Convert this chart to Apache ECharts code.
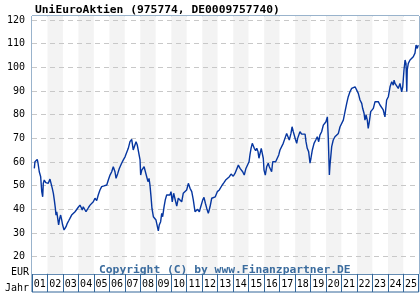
<!DOCTYPE html>
<html>
<head>
<meta charset="utf-8">
<script src="https://cdn.jsdelivr.net/npm/echarts@6/dist/echarts.min.js"></script>
<style>
  html, body { margin: 0; padding: 0; background: #fff; }
  #chart { width: 420px; height: 300px; }
</style>
</head>
<body>
<div id="chart"></div>
<script>
// Kurs in EUR, Zeitpunkt als Dezimaljahr
const years = [
  2001.15, 2001.19, 2001.34, 2001.39, 2001.47, 2001.56, 2001.63, 2001.69, 2001.73, 2001.79,
  2001.89, 2001.95, 2002.05, 2002.16, 2002.23, 2002.31, 2002.38, 2002.44, 2002.51, 2002.55,
  2002.60, 2002.66, 2002.72, 2002.79, 2002.85, 2002.92, 2002.98, 2003.07, 2003.13, 2003.20,
  2003.28, 2003.37, 2003.45, 2003.56, 2003.67, 2003.78, 2003.89, 2003.99, 2004.10, 2004.17,
  2004.25, 2004.31, 2004.42, 2004.49, 2004.57, 2004.66, 2004.75, 2004.86, 2004.96, 2005.07,
  2005.18, 2005.28, 2005.39, 2005.50, 2005.65, 2005.83, 2005.93, 2006.04, 2006.15, 2006.25,
  2006.36, 2006.43, 2006.54, 2006.64, 2006.79, 2006.90, 2007.01, 2007.12, 2007.22, 2007.33,
  2007.44, 2007.54, 2007.61, 2007.72, 2007.80, 2007.91, 2007.98, 2008.02, 2008.09, 2008.15,
  2008.24, 2008.32, 2008.41, 2008.49, 2008.56, 2008.62, 2008.69, 2008.75, 2008.84, 2008.93,
  2009.01, 2009.16, 2009.22, 2009.31, 2009.38, 2009.44, 2009.53, 2009.61, 2009.70, 2009.80,
  2009.91, 2009.98, 2010.06, 2010.15, 2010.26, 2010.35, 2010.45, 2010.56, 2010.67, 2010.77,
  2010.88, 2010.99, 2011.10, 2011.21, 2011.32, 2011.42, 2011.53, 2011.59, 2011.70, 2011.81,
  2011.90, 2012.03, 2012.11, 2012.20, 2012.29, 2012.39, 2012.50, 2012.61, 2012.71, 2012.84,
  2012.97, 2013.10, 2013.19, 2013.29, 2013.40, 2013.51, 2013.62, 2013.75, 2013.86, 2014.00,
  2014.11, 2014.18, 2014.33, 2014.44, 2014.61, 2014.71, 2014.82, 2014.93, 2015.02, 2015.08,
  2015.15, 2015.23, 2015.30, 2015.36, 2015.45, 2015.52, 2015.60, 2015.66, 2015.73, 2015.81,
  2015.88, 2015.94, 2015.99, 2016.07, 2016.16, 2016.26, 2016.33, 2016.42, 2016.48, 2016.55,
  2016.63, 2016.74, 2016.85, 2016.94, 2017.02, 2017.13, 2017.23, 2017.34, 2017.45, 2017.56,
  2017.62, 2017.73, 2017.80, 2017.88, 2017.94, 2018.03, 2018.10, 2018.16, 2018.23, 2018.31,
  2018.42, 2018.53, 2018.64, 2018.70, 2018.78, 2018.87, 2018.96, 2019.02, 2019.11, 2019.22,
  2019.33, 2019.43, 2019.52, 2019.60, 2019.71, 2019.82, 2019.93, 2019.99, 2020.08, 2020.14,
  2020.21, 2020.25, 2020.36, 2020.46, 2020.57, 2020.68, 2020.79, 2020.90, 2021.01, 2021.11,
  2021.22, 2021.33, 2021.43, 2021.54, 2021.65, 2021.76, 2021.87, 2021.98, 2022.08, 2022.19,
  2022.30, 2022.36, 2022.45, 2022.51, 2022.58, 2022.66, 2022.72, 2022.79, 2022.88, 2022.94,
  2023.05, 2023.16, 2023.27, 2023.37, 2023.48, 2023.59, 2023.69, 2023.80, 2023.91, 2024.02,
  2024.13, 2024.24, 2024.34, 2024.39, 2024.45, 2024.56, 2024.66, 2024.77, 2024.88, 2024.95,
  2025.03, 2025.10, 2025.16, 2025.21, 2025.24, 2025.31, 2025.42, 2025.53, 2025.63, 2025.74,
  2025.81, 2025.89, 2025.95
];
const prices = [
  57.3, 60.1, 61.1, 59.5, 55.9, 53.8, 47.5, 45.3, 51.0, 52.4,
  51.3, 51.7, 51.0, 52.8, 51.0, 48.9, 46.8, 44.0, 40.4, 37.6,
  39.0, 36.2, 33.4, 36.2, 37.6, 35.5, 33.4, 31.3, 30.6, 32.7,
  34.1, 35.2, 36.2, 37.6, 37.6, 39.0, 39.7, 40.9, 41.8, 40.9,
  39.7, 41.1, 40.4, 39.0, 38.6, 40.9, 41.8, 42.3, 43.2, 44.7,
  43.7, 46.1, 48.2, 49.6, 49.9, 50.3, 52.4, 54.5, 55.9, 58.0,
  55.9, 53.1, 55.2, 57.3, 59.5, 60.9, 62.2, 63.0, 65.8, 68.6,
  69.6, 65.1, 64.4, 68.6, 67.2, 66.5, 60.9, 54.5, 56.6, 55.9,
  58.0, 57.3, 53.8, 51.7, 53.1, 50.3, 45.3, 40.4, 36.9, 36.6,
  35.5, 30.9, 33.4, 34.8, 38.3, 36.9, 41.1, 44.0, 46.1, 46.8,
  46.1, 47.5, 43.2, 46.8, 46.8, 41.4, 44.7, 44.0, 43.2, 46.8,
  46.8, 48.2, 51.0, 48.9, 47.5, 44.0, 39.0, 38.6, 40.0, 39.0,
  41.1, 44.0, 45.1, 42.6, 40.4, 38.3, 41.1, 44.7, 45.3, 45.3,
  47.5, 48.2, 47.5, 50.3, 51.3, 52.4, 51.7, 53.8, 54.9, 54.0,
  55.2, 55.9, 58.7, 57.3, 55.9, 54.5, 57.3, 56.6, 60.1, 63.0,
  65.8, 67.9, 66.8, 65.8, 64.8, 65.8, 64.4, 61.6, 62.2, 65.8,
  65.1, 61.6, 56.6, 54.5, 58.0, 59.5, 58.0, 57.3, 55.9, 60.1,
  60.9, 60.1, 59.5, 63.0, 65.1, 65.8, 67.9, 70.0, 72.1, 71.4,
  69.3, 72.1, 74.9, 72.8, 72.1, 69.3, 67.9, 70.0, 69.3, 72.8,
  71.8, 72.1, 71.8, 68.6, 65.8, 64.4, 59.5, 61.6, 65.1, 67.9,
  69.3, 70.7, 68.6, 71.4, 72.8, 75.6, 76.4, 77.0, 79.1, 70.0,
  54.5, 58.7, 66.5, 69.3, 70.7, 70.0, 72.1, 74.9, 75.6, 77.7,
  81.3, 84.8, 87.6, 89.7, 91.1, 90.4, 91.8, 91.1, 89.0, 86.2,
  84.8, 82.7, 80.6, 77.7, 79.9, 77.7, 74.2, 77.0, 81.3, 82.0,
  82.7, 85.5, 86.2, 85.5, 84.1, 83.4, 82.0, 79.1, 86.2, 87.6,
  91.8, 93.9, 92.5, 94.6, 93.2, 92.5, 91.1, 93.2, 89.7, 91.8,
  98.9, 103.1, 101.7, 89.7, 98.9, 101.7, 103.1, 103.8, 104.5, 106.0,
  109.4, 108.0, 109.4
];
const yTicks = [20, 30, 40, 50, 60, 70, 80, 90, 100, 110, 120];
const yearLabels = ['01','02','03','04','05','06','07','08','09','10','11','12','13',
  '14','15','16','17','18','19','20','21','22','23','24','25'];

const blau = '#336699';
const mono = 'DejaVu Sans Mono';

let chart = echarts.init(document.getElementById('chart'));

chart.setOption({
  animation: false,
  title: [
    {
      text: 'UniEuroAktien (975774, DE0009757740)',
      left: 30, top: 0,
      textStyle: { fontFamily: mono, fontWeight: 'bold', fontSize: 11.3, color: '#000' }
    },
    {
      text: 'Copyright (C) by www.Finanzpartner.DE',
      left: 94, top: 260,
      textStyle: { fontFamily: mono, fontWeight: 'bold', fontSize: 11.3, color: '#3b6c9e' }
    },
    {
      text: 'EUR',
      left: 6, top: 262,
      textStyle: { fontFamily: mono, fontWeight: 'normal', fontSize: 10, color: '#000' }
    },
    {
      text: 'Jahr',
      left: 0, top: 278,
      textStyle: { fontFamily: mono, fontWeight: 'normal', fontSize: 10, color: '#000' }
    }
  ],
  grid: [
    { left: 32, right: 1, top: 16, height: 258, show: true, borderColor: blau, borderWidth: 1 },
    { left: 32, right: 1, top: 274, height: 18, show: true, borderColor: blau, borderWidth: 1 }
  ],
  xAxis: [
    {
      type: 'value', gridIndex: 0, min: 2001, max: 2026, interval: 1,
      axisLine: { show: false }, axisTick: { show: false }, axisLabel: { show: false },
      splitLine: { show: false },
      splitArea: { show: true, areaStyle: { color: ['#ffffff', '#f3f3f3'] } }
    },
    {
      type: 'category', gridIndex: 1, data: yearLabels, boundaryGap: true,
      axisLine: { show: false }, axisTick: { show: false },
      axisLabel: { inside: true, margin: 3, interval: 0, fontFamily: mono, fontSize: 10, color: '#000' },
      splitLine: { show: true, interval: 0, lineStyle: { color: blau, width: 1 } }
    }
  ],
  yAxis: [
    {
      type: 'value', gridIndex: 0, min: 12.7, max: 121.7,
      axisLine: { show: false }, axisTick: { show: false }, axisLabel: { show: false },
      splitLine: { show: false }
    },
    { type: 'value', gridIndex: 1, show: false }
  ],
  series: [
    {
      type: 'line',
      xAxisIndex: 0, yAxisIndex: 0,
      data: years.map((y, i) => [y, prices[i]]),
      showSymbol: false,
      z: 3,
      lineStyle: { color: '#0636a0', width: 1.4 },
      markLine: {
        silent: true,
        symbol: 'none',
        z: 1,
        lineStyle: { color: '#c8c8c8', type: [5, 4], width: 1 },
        label: { position: 'start', formatter: '{c}', distance: 7, fontFamily: mono, fontSize: 10, color: '#000' },
        emphasis: { disabled: true },
        data: yTicks.map(v => ({ yAxis: v }))
      }
    }
  ]
});
</script>
</body>
</html>
